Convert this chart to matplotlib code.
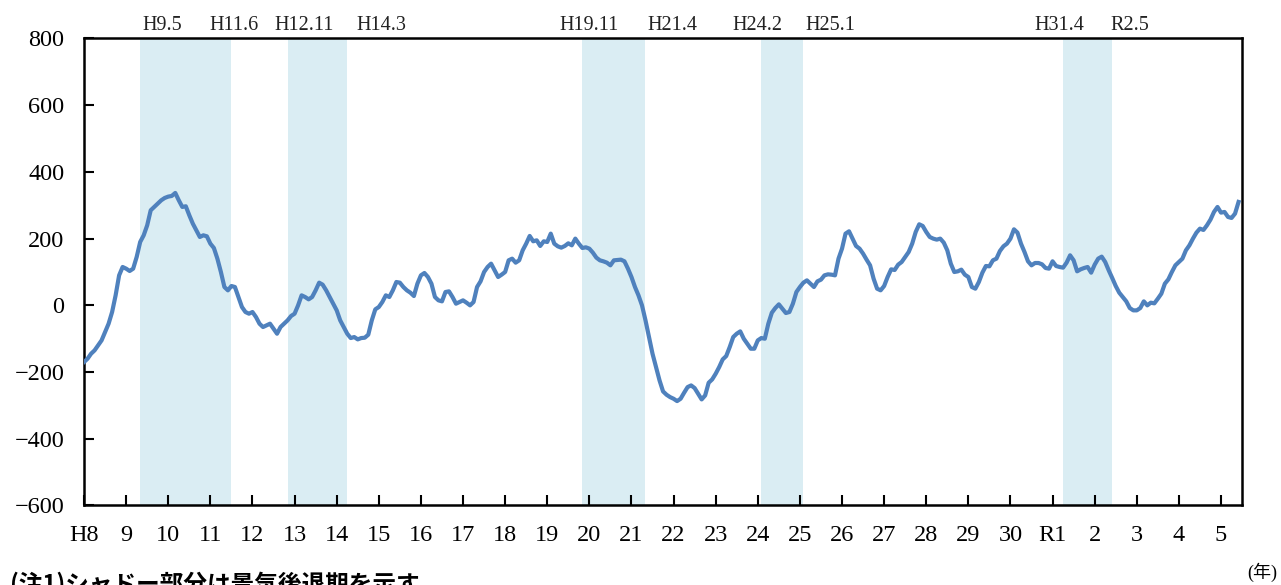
import numpy as np
import matplotlib
matplotlib.use("Agg")
import matplotlib.pyplot as plt
import matplotlib.transforms as mtransforms

# monthly series, Jan 1996 (H8.1) .. Jun 2023 (R5.6)
values = [
    -170, -160, -145, -135, -120, -105, -80, -55, -20, 30, 90, 115,      # H8
    110, 103, 110, 145, 190, 210, 240, 285, 295, 305, 315, 322,          # H9
    326, 328, 337, 315, 295, 297, 270, 245, 225, 205, 210, 207,          # H10
    185, 172, 140, 100, 55, 45, 58, 55, 25, -5, -20, -25,                # H11
    -20, -35, -55, -65, -60, -55, -70, -85, -65, -55, -45, -32,          # H12
    -25, 0, 30, 25, 18, 25, 45, 68, 62, 45, 25, 5,                       # H13
    -15, -45, -65, -85, -98, -95, -102, -98, -97, -88, -45, -12,         # H14
    -5, 10, 30, 25, 45, 70, 68, 55, 45, 38, 28, 65,                      # H15
    90, 97, 85, 65, 25, 15, 12, 40, 42, 25, 5, 10,                       # H16
    15, 8, 0, 10, 55, 72, 100, 115, 125, 105, 85, 92,                    # H17
    100, 135, 140, 128, 135, 165, 185, 208, 192, 195, 178, 192,          # H18
    190, 215, 185, 177, 173, 178, 186, 180, 200, 185, 172, 174,          # H19
    170, 158, 143, 135, 132, 128, 120, 135, 136, 137, 132, 110,          # H20
    85, 55, 30, 0, -45, -95, -145, -185, -225, -258, -268, -275,         # H21
    -280, -287, -280, -262, -245, -240, -248, -265, -282, -270, -232, -222,  # H22
    -205, -185, -162, -152, -125, -95, -85, -78, -100, -115, -130, -130,  # H23
    -105, -98, -100, -55, -22, -8, 3, -10, -23, -20, 5, 40,              # H24
    55, 68, 75, 65, 55, 72, 77, 90, 93, 92, 90, 140,                     # H25
    170, 215, 222, 200, 178, 170, 155, 137, 120, 80, 50, 45,             # H26
    58, 85, 108, 106, 122, 130, 145, 160, 185, 220, 243, 238,            # H27
    220, 205, 200, 197, 200, 188, 165, 125, 100, 102, 107, 92,           # H28
    85, 55, 50, 70, 98, 118, 117, 135, 140, 163, 177, 185,               # H29
    200, 228, 218, 185, 160, 132, 120, 127, 127, 123, 112, 110,          # H30
    132, 118, 115, 113, 128, 150, 135, 102, 108, 112, 115, 98,           # H31/R1
    122, 140, 146, 130, 105, 82, 58, 38, 25, 12, -8, -15,                # R2
    -15, -8, 12, 0, 8, 6, 20, 35, 65, 78, 100, 120,                      # R3
    130, 140, 165, 180, 200, 218, 230, 226, 240, 257, 280, 295,          # R4
    278, 280, 265, 262, 275, 310,                                        # R5
]

year_labels = ["H8", "9", "10", "11", "12", "13", "14", "15", "16", "17", "18",
               "19", "20", "21", "22", "23", "24", "25", "26", "27", "28", "29",
               "30", "R1", "2", "3", "4", "5"]

peak_labels = ["H9.5", "H12.11", "H19.11", "H24.2", "H31.4"]
trough_labels = ["H11.6", "H14.3", "H21.4", "H25.1", "R2.5"]

# label nudges (pixels) so the boxed labels sit as in the source layout
peak_nudge = [22, 17, 7, -4, -4]
trough_nudge = [3, 34, 27, 27, 18]


def to_year(lbl):
    era, rest = lbl[0], lbl[1:]
    y, m = rest.split(".")
    base = 1988 if era == "H" else 2018
    return base + int(y), int(m)


x = 1996 + np.arange(len(values)) / 12.0

plt.rcParams["font.family"] = ["Liberation Serif", "Noto Sans CJK JP"]

fig = plt.figure(figsize=(12.81, 5.85), dpi=100)
ax = fig.add_axes([0.0656, 0.1359, 0.904, 0.7983])
trans = mtransforms.blended_transform_factory(ax.transData, ax.transAxes)

for i, (p, t) in enumerate(zip(peak_labels, trough_labels)):
    py, pm = to_year(p)
    ty, tm = to_year(t)
    start = py + (pm - 1) / 12.0
    end = ty + tm / 12.0
    ax.axvspan(start, end, color="#DAEDF3", lw=0, zorder=0)
    ax.annotate(p, (start, 1.027), xycoords=trans, xytext=(peak_nudge[i], 0),
                textcoords="offset pixels", ha="center", va="center",
                fontsize=14.5, color="#222222", annotation_clip=False)
    ax.annotate(t, (end, 1.027), xycoords=trans, xytext=(trough_nudge[i], 0),
                textcoords="offset pixels", ha="center", va="center",
                fontsize=14.5, color="#222222", annotation_clip=False)

ax.plot(x, values, color="#4F81BD", lw=3, solid_joinstyle="round", zorder=3)

ax.set_xlim(1996, 2023.5)
ax.set_ylim(-600, 800)
ax.set_yticks(np.arange(-600, 801, 200))
ax.set_xticks(np.arange(1996, 1996 + len(year_labels)))
ax.set_xticklabels(year_labels)

ax.tick_params(axis="both", direction="in", length=7, width=1.5,
               labelsize=17.5, pad=14, colors="black")
for s in ax.spines.values():
    s.set_linewidth(1.8)

fig.text(1277 / 1281, 1 - 563 / 585, "(年)", ha="right", va="top", fontsize=13)
fig.text(10 / 1281, 1 - 572 / 585, "(注1)シャドー部分は景気後退期を示す",
         ha="left", va="top", fontsize=17, fontweight="bold",
         family=["Noto Sans CJK JP"])

fig.savefig("out.png", dpi=100)
